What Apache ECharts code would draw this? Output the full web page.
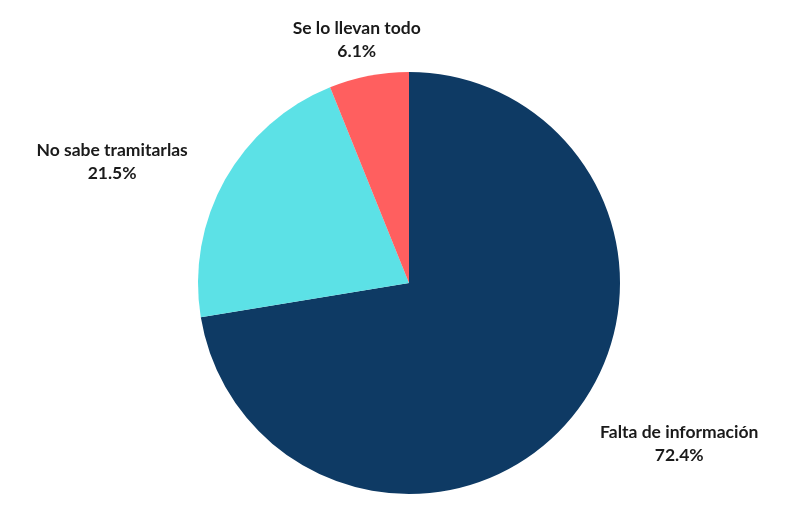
<html>
<head>
<meta charset="utf-8">
<script src="https://cdn.jsdelivr.net/npm/echarts@6/dist/echarts.min.js"></script>
<style>
  body { margin: 0; background: #fff; }
  #main { width: 800px; height: 512px; }
</style>
</head>
<body>
<div id="main"></div>
<script>
  // datos
  var CATEGORIES = ['Falta de información', 'No sabe tramitarlas', 'Se lo llevan todo']
  var VALUES = [72.4, 21.5, 6.1]
  var COLORS = ['#0e3a64', '#5ce1e6', '#ff5f5f']

  var chart = echarts.init(document.getElementById('main'))
  var data = CATEGORIES.map((name, i) => ({
    name: name,
    value: VALUES[i],
    itemStyle: { color: COLORS[i] },
  }))

  chart.setOption({
    backgroundColor: '#fff',
    series: [{
      type: 'pie',
      center: [409, 283],
      radius: 211,
      startAngle: 90,
      clockwise: true,
      animation: false,
      data: data,
      label: {
        show: true,
        position: 'outside',
        formatter: p => `{a|${p.name}}\n{a|${p.value.toFixed(1)}%}`,
        rich: {
          a: {
            fontFamily: 'Lato',
            fontWeight: 'bold',
            fontSize: 17.5,
            lineHeight: 23,
            color: '#1a1a1a',
            align: 'center',
          }
        },
      },
      labelLine: { show: false, length: 37, length2: 0 },
      // la etiqueta de arriba va centrada
      labelLayout: p => p.dataIndex === 2 ? { align: 'center' } : (p.dataIndex === 0 ? { dx: -3 } : {}),
      emphasis: { disabled: true },
    }]
  })
</script>
</body>
</html>
